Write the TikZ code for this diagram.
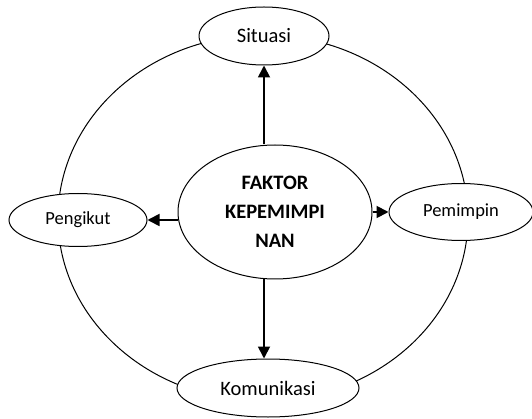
\documentclass[tikz,border=0pt]{standalone}
\usepackage{fontspec}
\setmainfont{Carlito}
\usetikzlibrary{arrows.meta,shapes.geometric,positioning}

\begin{document}
\begin{tikzpicture}[x=1pt,y=-1pt,
bubble/.style={draw,ellipse,fill=white,line width=1pt,inner sep=0pt},
arr/.style={-{Triangle[length=12pt,width=12pt]},line width=1.8pt}]
\useasboundingbox (0,0) rectangle (532,419);
% outer ring
\node[draw,ellipse,line width=1pt,minimum width=410pt,minimum height=366pt](ring) at (263,218){};
\node[bubble,minimum width=194pt,minimum height=134pt,align=center,
  font=\bfseries\fontsize{20.5}{29}\selectfont](faktor) at (275,212){FAKTOR\\KEPEMIMPI\\NAN};
\node[bubble,minimum width=130pt,minimum height=58pt,font=\fontsize{20.5}{24}\selectfont](situasi) at (264,36){Situasi};
\node[bubble,minimum width=182pt,minimum height=58pt,font=\fontsize{20.5}{24}\selectfont](komunikasi) at (268,388){Komunikasi};
\node[bubble,minimum width=138pt,minimum height=53pt,font=\fontsize{18.5}{22}\selectfont](pengikut) at (78,220){Pengikut};
\node[bubble,minimum width=144pt,minimum height=57pt,font=\fontsize{18.5}{22}\selectfont](pemimpin) at (461,212){Pemimpin};
% arrows
\draw[arr](faktor.north -| situasi)--(situasi.south);
\draw[arr](faktor.south -| situasi)--(situasi.south |- komunikasi.north);
\draw[arr](faktor.west |- pengikut)--(pengikut.east);
\draw[arr](faktor.east)--(pemimpin.west);
\end{tikzpicture}
\end{document}
